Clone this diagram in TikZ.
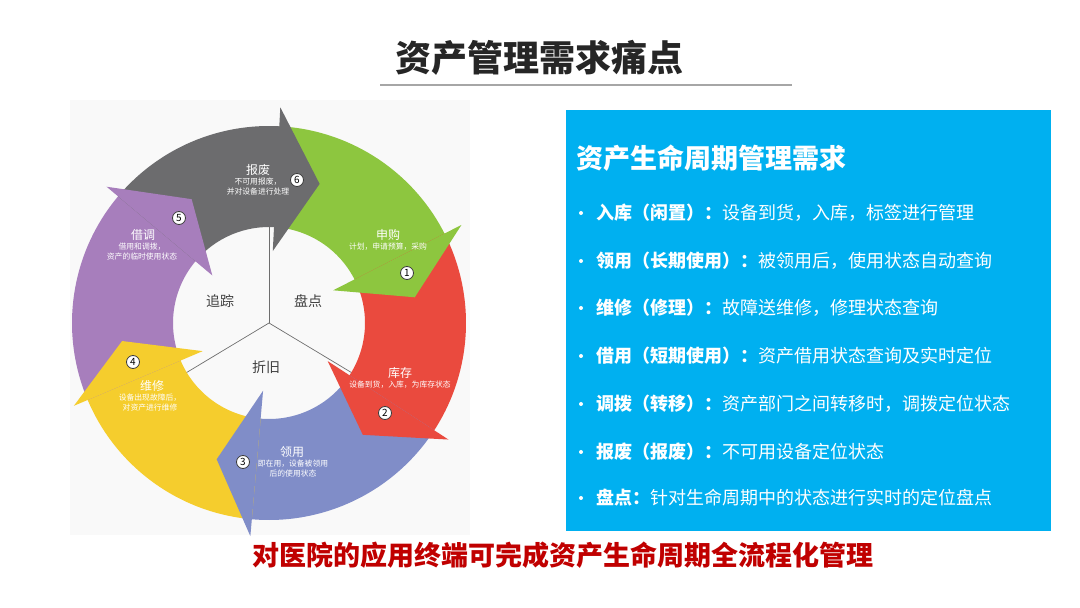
\documentclass[tikz,border=0pt]{standalone}
\usepackage{fontspec}
\setmainfont{Noto Sans CJK SC}
\definecolor{cg}{RGB}{141,198,63}
\definecolor{cr}{RGB}{234,74,62}
\definecolor{cb}{RGB}{128,141,200}
\definecolor{cy}{RGB}{245,205,45}
\definecolor{cp}{RGB}{167,126,188}
\definecolor{ck}{RGB}{108,108,110}
\definecolor{boxblue}{RGB}{0,176,240}
\definecolor{darkred}{RGB}{192,0,0}
\definecolor{titlec}{RGB}{38,38,38}
\definecolor{bgc}{RGB}{249,249,249}
\definecolor{linec}{RGB}{166,166,166}
\definecolor{numc}{RGB}{60,60,60}
\definecolor{hubc}{RGB}{64,64,64}
\definecolor{spokec}{RGB}{110,110,110}
\begin{document}
\begin{tikzpicture}[x=1pt,y=1pt,
  lbl/.style={text=white,font=\fontsize{12}{12}\selectfont,inner sep=0},
  sub/.style={text=white,font=\fontsize{7.8}{10}\selectfont,align=center,inner sep=0},
  num/.style={circle,draw=numc,fill=white,line width=0.8,minimum size=13,inner sep=0,font=\fontsize{10}{10}\selectfont},
  hub/.style={text=hubc,font=\fontsize{14}{14}\selectfont,inner sep=0},
  spoke/.style={draw=spokec,line width=0.7},
  item/.style={anchor=west,text=white,font=\fontsize{18}{18}\selectfont,inner sep=0},
  dot/.style={circle,fill=white,minimum size=4,inner sep=0},
]
\useasboundingbox[fill=white] (0,0) rectangle (1080,608);
% faint picture background
\fill[bgc] (70,73) rectangle (470,508);
% title
\node[inner sep=0,text=titlec,font=\fontsize{36}{36}\selectfont\bfseries] (title) at (539,550) {资产管理需求痛点};
\coordinate (ul1) at (380,523);
\coordinate (ul2) at (792,523);
\draw[linec,line width=2] (ul1) -- (ul2);
% cycle
\begin{scope}[shift={(269,285)}]
\coordinate (C) at (0,0);
\def\Ro{197}\def\Ri{96}
% bodies
\fill[cg] (87:\Ro) arc[start angle=87,end angle=26,radius=\Ro] -- (26:\Ri) arc[start angle=26,end angle=87,radius=\Ri] -- cycle;
\fill[cr] (27:\Ro) arc[start angle=27,end angle=-34,radius=\Ro] -- (-34:\Ri) arc[start angle=-34,end angle=27,radius=\Ri] -- cycle;
\fill[cb] (-33:\Ro) arc[start angle=-33,end angle=-96,radius=\Ro] -- (-96:\Ri) arc[start angle=-96,end angle=-33,radius=\Ri] -- cycle;
\fill[cy] (-95:\Ro) arc[start angle=-95,end angle=-158,radius=\Ro] -- (-158:\Ri) arc[start angle=-158,end angle=-95,radius=\Ri] -- cycle;
\fill[cp] (-157:\Ro) arc[start angle=-157,end angle=-221,radius=\Ro] -- (-221:\Ri) arc[start angle=-221,end angle=-157,radius=\Ri] -- cycle;
\fill[ck] (140:\Ro) arc[start angle=140,end angle=86,radius=\Ro] -- (86:\Ri) arc[start angle=86,end angle=140,radius=\Ri] -- cycle;
% spokes
\coordinate (s1) at (90:\Ri);
\coordinate (s2) at (-31:\Ri);
\coordinate (s3) at (-149:\Ri);
\draw[spoke] (C) -- (s1);
\draw[spoke] (C) -- (s2);
\draw[spoke] (C) -- (s3);
% heads
\fill[ck] (87:72) -- (70:148) -- (87:216) -- cycle;
\fill[cg] (27:72) -- (10:148) -- (27:216) -- cycle;
\fill[cr] (-33:70) -- (-50:146) -- (-33:214) -- cycle;
\fill[cb] (-95:68) -- (-111:146) -- (-95:214) -- cycle;
\fill[cy] (-157:72) -- (-173:148) -- (-157:212) -- cycle;
\fill[cp] (140:74) -- (122:146) -- (140:212) -- cycle;
\end{scope}
% hub labels
\node[hub] (h1) at (220,307) {追踪};
\node[hub] (h2) at (308,307) {盘点};
\node[hub] (h3) at (266,241) {折旧};
% segment labels
\node[lbl] (l6) at (258,438) {报废};
\node[sub] (d6) at (258,421) {不可用报废，\\并对设备进行处理};
\node[num] (n6) at (297,428) {6};
\node[lbl] (l1) at (388,373) {申购};
\node[sub] (d1) at (388,361) {计划，申请预算，采购};
\node[num] (n1) at (407,335) {1};
\node[lbl] (l2) at (400,235) {库存};
\node[sub] (d2) at (400,223) {设备到货，入库，为库存状态};
\node[num] (n2) at (385,195) {2};
\node[lbl] (l3) at (292,156) {领用};
\node[sub] (d3) at (293,139) {即在用，设备被领用\\后的使用状态};
\node[num] (n3) at (243,146) {3};
\node[lbl] (l4) at (152,222) {维修};
\node[sub] (d4) at (150,205) {设备出现故障后，\\对资产进行维修};
\node[num] (n4) at (133,246) {4};
\node[lbl] (l5) at (143,373) {借调};
\node[sub] (d5) at (142,356) {借用和调拨，\\资产的临时使用状态};
\node[num] (n5) at (179,390) {5};
% right box
\fill[boxblue] (566,77) rectangle (1051,498);
\node[anchor=west,inner sep=0,text=white,font=\fontsize{27}{27}\selectfont\bfseries] (bt) at (576,450) {资产生命周期管理需求};
\foreach \y/\k/\t [count=\i] in {
  395/入库（闲置）：/设备到货，入库，标签进行管理,
  347/领用（长期使用）：/被领用后，使用状态自动查询,
  300/维修（修理）：/故障送维修，修理状态查询,
  252/借用（短期使用）：/资产借用状态查询及实时定位,
  204/调拨（转移）：/资产部门之间转移时，调拨定位状态,
  156/报废（报废）：/不可用设备定位状态,
  110/盘点：/针对生命周期中的状态进行实时的定位盘点}{
  \node[dot] (b\i) at (581,\y) {};
  \node[item] (t\i) at (596,\y) {{\bfseries \k}\t};
}
% bottom
\node[inner sep=0,text=darkred,font=\fontsize{27}{27}\selectfont\bfseries] (foot) at (563,53) {对医院的应用终端可完成资产生命周期全流程化管理};
\end{tikzpicture}
\end{document}
